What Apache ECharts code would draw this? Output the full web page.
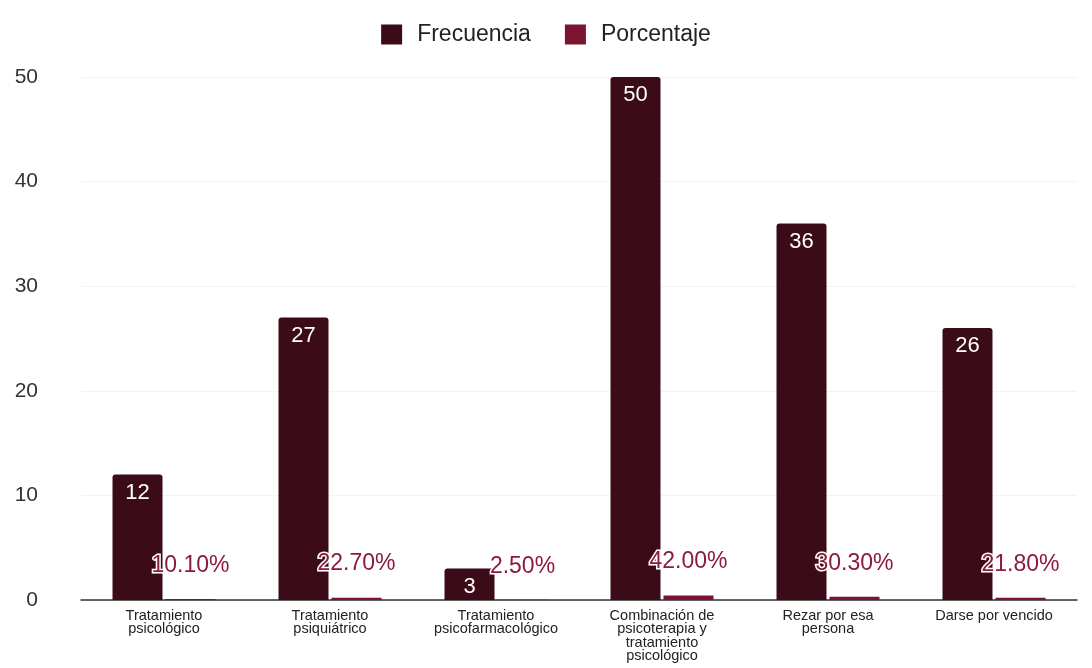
<!DOCTYPE html>
<html>
<head>
<meta charset="utf-8">
<script src="https://cdn.jsdelivr.net/npm/echarts@6/dist/echarts.min.js"></script>
<style>html,body{margin:0;padding:0;background:#fff;}#c{width:1092px;height:668px;}</style>
</head>
<body>
<div id="c"></div>
<script>
const categories = [
  "Tratamiento\npsicológico",
  "Tratamiento\npsiquiátrico",
  "Tratamiento\npsicofarmacológico",
  "Combinación de\npsicoterapia y\ntratamiento\npsicológico",
  "Rezar por esa\npersona",
  "Darse por vencido"
];
const frecuencia = [12, 27, 3, 50, 36, 26];
const porcentaje = [0.101, 0.227, 0.025, 0.42, 0.303, 0.218];
const yTicks = [0, 10, 20, 30, 40, 50];

const font = "'Liberation Sans', Arial, sans-serif";
const chart = echarts.init(document.getElementById('c'));
chart.setOption({
  animation: false,
  textStyle: { fontFamily: font },
  legend: {
    top: 18, left: 'center',
    itemWidth: 21, itemHeight: 20, itemGap: 34,
    textStyle: { fontSize: 23, color: '#222', fontFamily: font, padding: [0, 0, 0, 10] },
    icon: 'rect'
  },
  grid: { left: 81, right: 15, top: 77, bottom: 68 },
  xAxis: {
    type: 'category',
    data: categories,
    axisLine: { lineStyle: { color: '#333', width: 1.5 } },
    axisTick: { show: false },
    axisLabel: { fontSize: 14.5, color: '#222', lineHeight: 13.5, margin: 9, interval: 0, fontFamily: font }
  },
  yAxis: {
    type: 'value', min: yTicks[0], max: yTicks[yTicks.length - 1], interval: 10,
    axisLine: { show: false },
    axisTick: { show: false },
    splitLine: { lineStyle: { color: '#f3f3f3' } },
    axisLabel: { fontSize: 21, color: '#333', margin: 43, fontFamily: font }
  },
  series: [
    {
      name: 'Frecuencia', type: 'bar', data: frecuencia,
      barWidth: 50, barGap: '6%',
      itemStyle: { color: '#3b0c18', borderRadius: [3, 3, 0, 0] },
      label: { show: true, position: 'insideTop', distance: 7, color: '#fff', fontSize: 22, fontFamily: font }
    },
    {
      name: 'Porcentaje', type: 'bar', data: porcentaje,
      barWidth: 50,
      itemStyle: { color: '#7a1430' },
      label: {
        show: true, position: 'top', distance: 22,
        color: '#8c1a3c', fontSize: 23, fontFamily: font,
        textBorderColor: '#fff', textBorderWidth: 3,
        formatter: p => (p.value * 100).toFixed(2) + '%'
      }
    }
  ]
});
</script>
</body>
</html>
